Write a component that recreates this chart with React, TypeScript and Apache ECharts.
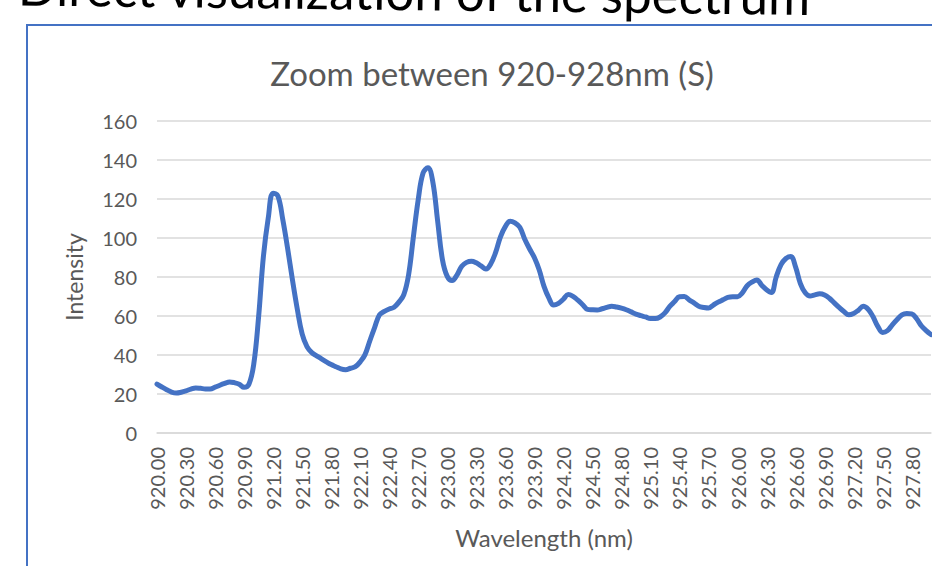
import React, { useEffect, useRef } from "react";
import * as echarts from "echarts";

const wavelengths: string[] = Array.from({ length: 161 }, (_, i) => (920 + i * 0.05).toFixed(2));

const intensity: number[] = [
  25.1, 23.6, 22.2, 21.0, 20.5, 20.9, 21.6, 22.5, 23.1, 22.9,
  22.6, 22.6, 23.5, 24.5, 25.4, 26.2, 25.8, 25.0, 23.4, 25.0,
  35.3, 59.5, 90.6, 110.3, 123.0, 121.5, 109.5, 94.7, 78.5, 63.5,
  50.8, 44.3, 41.2, 39.6, 38.0, 36.5, 35.1, 34.0, 32.9, 32.5,
  33.2, 34.0, 36.5, 40.2, 47.3, 54.2, 60.6, 62.4, 63.6, 64.5,
  67.1, 70.8, 81.0, 100.6, 119.7, 133.3, 136.0, 129.0, 109.0, 89.0,
  80.3, 78.2, 81.0, 85.5, 87.5, 88.1, 87.3, 85.7, 84.1, 86.8,
  92.6, 100.6, 105.8, 108.6, 107.7, 105.5, 99.5, 94.5, 90.0, 83.7,
  75.2, 69.3, 65.6, 66.5, 68.6, 71.0, 70.1, 68.1, 65.8, 63.4,
  63.2, 63.1, 63.7, 64.4, 65.0, 64.6, 64.0, 63.2, 62.1, 61.0,
  60.2, 59.5, 58.7, 58.7, 59.5, 61.6, 64.9, 67.4, 69.9, 70.0,
  68.3, 66.7, 65.0, 64.4, 64.1, 65.6, 67.1, 68.3, 69.5, 69.9,
  69.9, 71.9, 75.5, 77.4, 78.5, 75.8, 73.5, 72.1, 80.0, 86.3,
  89.5, 90.5, 85.2, 76.6, 71.9, 70.2, 70.8, 71.4, 70.8, 69.1,
  66.7, 64.4, 62.3, 60.6, 61.3, 63.0, 65.0, 63.5, 59.7, 54.7,
  51.6, 52.5, 55.5, 58.2, 60.6, 61.3, 61.1, 58.7, 55.0, 52.5, 50.5,
];

const slideTitle = "Direct visualization of the spectrum";
const chartTitle = "Zoom between 920-928nm (S)";
const xName = "Wavelength (nm)";
const yName = "Intensity";

const FONT = "Lato, 'Open Sans', sans-serif";
const GRAY = "#595959";

export default function App() {
  const ref = useRef<HTMLDivElement>(null);
  useEffect(() => {
    if (!ref.current) return;
    const chart = echarts.init(ref.current, undefined, { renderer: "svg" });
    chart.setOption({
      animation: false,
      backgroundColor: "#ffffff",
      textStyle: { fontFamily: FONT },
      graphic: [
        {
          type: "rect",
          shape: { x: 27, y: 25, width: 1000, height: 1000 },
          style: { fill: "#ffffff", stroke: "#4472C4", lineWidth: 2 },
          z: -10,
        },
        {
          type: "text",
          x: 18,
          y: -14,
          rotation: -0.012,
          style: {
            text: slideTitle,
            fill: "#000000",
            font: `51px ${FONT}`,
            textAlign: "left",
            textVerticalAlign: "middle",
            align: "left",
            verticalAlign: "middle",
          },
        },
        {
          type: "text",
          x: 492,
          y: 73,
          style: {
            text: chartTitle,
            fill: GRAY,
            font: `33px ${FONT}`,
            textAlign: "center",
            textVerticalAlign: "middle",
            align: "center",
            verticalAlign: "middle",
          },
        },
      ],
      grid: { left: 157, right: 1, top: 121, bottom: 133, containLabel: false },
      xAxis: {
        type: "category",
        data: wavelengths,
        boundaryGap: false,
        name: xName,
        nameLocation: "middle",
        nameGap: 92,
        nameTextStyle: { color: GRAY, fontSize: 24, fontFamily: FONT },
        axisLine: { show: true, lineStyle: { color: "#d9d9d9", width: 1.5 } },
        axisTick: { show: false },
        axisLabel: {
          interval: 5,
          rotate: 90,
          margin: 14,
          color: GRAY,
          fontSize: 20,
          fontFamily: FONT,
        },
        splitLine: { show: false },
      },
      yAxis: {
        type: "value",
        min: 0,
        max: 160,
        interval: 20,
        name: yName,
        nameLocation: "middle",
        nameGap: 72,
        nameTextStyle: { color: GRAY, fontSize: 23, fontFamily: FONT },
        axisLine: { show: false },
        axisTick: { show: false },
        axisLabel: { color: GRAY, fontSize: 20, fontFamily: FONT, margin: 20 },
        splitLine: { lineStyle: { color: "#d9d9d9", width: 1.5 } },
      },
      series: [
        {
          type: "line",
          data: intensity,
          smooth: 0.4,
          symbol: "none",
          lineStyle: { color: "#4472C4", width: 5, cap: "round", join: "round" },
          itemStyle: { color: "#4472C4" },
        },
      ],
    });
    return () => chart.dispose();
  }, []);
  return (
    <div
      ref={ref}
      style={{ position: "absolute", left: 0, top: 0, width: 932, height: 566, overflow: "hidden" }}
    />
  );
}
